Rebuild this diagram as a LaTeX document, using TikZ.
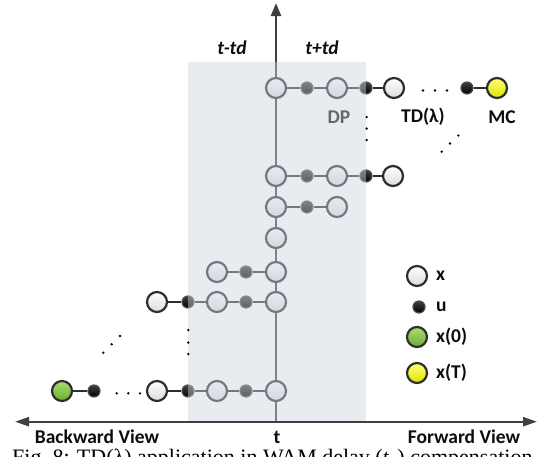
\documentclass[tikz,border=0pt]{standalone}
\usepackage{fontspec}
\setmainfont{Carlito}
\newfontfamily\capfont{Liberation Serif}
\usetikzlibrary{arrows.meta}
\definecolor{edgec}{HTML}{2E2E2E}
\definecolor{axisc}{HTML}{404040}
\definecolor{ovl}{RGB}{205,212,224}
\begin{document}
\begin{tikzpicture}[x=1pt,y=-1pt,
  xn/.style={circle, draw=edgec, line width=2.2pt, minimum size=20pt, inner sep=0pt, top color=white, bottom color=black!14},
  un/.style={circle, draw=black!70, line width=1.2pt, minimum size=12pt, inner sep=0pt, top color=black!75, bottom color=black},
  gn/.style={xn, top color={rgb,255:red,170;green,220;blue,110}, bottom color={rgb,255:red,105;green,175;blue,55}},
  yn/.style={xn, top color={rgb,255:red,255;green,255;blue,120}, bottom color={rgb,255:red,225;green,225;blue,0}},
  link/.style={draw=edgec, line width=2pt},
  lab/.style={font=\bfseries\fontsize{19.5}{21}\selectfont, text=black!95, inner sep=0pt},
  axlab/.style={font=\bfseries\itshape\fontsize{19.5}{21}\selectfont, text=black!95, inner sep=0pt},
  dotc/.style={fill=black}
]
\useasboundingbox (0,0) rectangle (543,456);
\begin{scope}
\clip (0,0) rectangle (543,456);

% axes
\coordinate (xl) at (15,421.7);
\coordinate (xr) at (537,421.7);
\coordinate (yb) at (276,421.7);
\coordinate (yt) at (276,3);
\draw[draw=axisc, line width=2.4pt, {Triangle[length=14pt,width=9pt]}-{Triangle[length=14pt,width=9pt]}] (xl) -- (xr);
\draw[draw=axisc, line width=2.4pt, -{Triangle[length=13pt,width=10pt]}] (yb) -- (yt);

% row 1
\node[xn] (a1) at (276,88) {};
\node[un] (a2) at (307,88) {};
\node[xn] (a3) at (337,88) {};
\node[un] (a4) at (366,88) {};
\node[xn] (a5) at (394,88) {};
\node[un] (a6) at (467,88) {};
\node[yn] (a7) at (497,88) {};
% row 2
\node[xn] (b1) at (276,176) {};
\node[un] (b2) at (307,176) {};
\node[xn] (b3) at (337,176) {};
\node[un] (b4) at (366,176) {};
\node[xn] (b5) at (393,176) {};
% row 3
\node[xn] (c1) at (276,207) {};
\node[un] (c2) at (307,207) {};
\node[xn] (c3) at (337,207) {};
% row 4
\node[xn] (d1) at (276,238) {};
% row 5
\node[xn] (e1) at (276,272) {};
\node[un] (e2) at (246,272) {};
\node[xn] (e3) at (217,272) {};
% row 6
\node[xn] (f1) at (276,302) {};
\node[un] (f2) at (246,302) {};
\node[xn] (f3) at (217,302) {};
\node[un] (f4) at (188,302) {};
\node[xn] (f5) at (157,302) {};
% row 7
\node[xn] (g1) at (276,391) {};
\node[un] (g2) at (246,391) {};
\node[xn] (g3) at (217,391) {};
\node[un] (g4) at (188,391) {};
\node[xn] (g5) at (157,391) {};
\node[un] (g6) at (94,391) {};
\node[gn] (g7) at (62,391) {};

% links
\path[link] (a1)--(a2) (a2)--(a3) (a3)--(a4) (a4)--(a5) (a6)--(a7);
\path[link] (b1)--(b2) (b2)--(b3) (b3)--(b4) (b4)--(b5);
\path[link] (c1)--(c2) (c2)--(c3);
\path[link] (e1)--(e2) (e2)--(e3);
\path[link] (f1)--(f2) (f2)--(f3) (f3)--(f4) (f4)--(f5);
\path[link] (g1)--(g2) (g2)--(g3) (g3)--(g4) (g4)--(g5) (g6)--(g7);

\node[lab] (dp) at (339,117) {DP};

% overlay window
\fill[ovl, fill opacity=0.45] (188,62) rectangle (366,420.5);

% labels
\node[lab] (td) at (423,117) {TD(λ)};
\node[lab] (mc) at (502,117) {MC};
\node[axlab] (tm) at (232,48) {t-td};
\node[axlab] (tp) at (322,48) {t+td};
\node[lab] (bw) at (97,437) {Backward View};
\node[lab] (tl) at (277,437) {t};
\node[lab] (fw) at (464,437) {Forward View};

% dots
\foreach \p in {(423,90.5),(435,90.5),(447,90.5),
                (366.7,117),(366.7,128.5),(366.7,140),
                (441.7,151.7),(450,143.5),(458.3,135.5),
                (188.3,330),(188.3,342.5),(188.3,354),
                (103.3,352.7),(111.7,344.3),(120,336),
                (116.7,393.3),(128.3,393.3),(140,393.3)}
  \fill[dotc] \p circle (1.3pt);

% legend
\node[xn] (lx) at (417,276) {};
\node[un] (lu) at (419,307) {};
\node[gn] (lg) at (417,337) {};
\node[yn] (ly) at (417,373) {};
\node[lab, anchor=west] (llx) at (436,276) {x};
\node[lab, anchor=west] (llu) at (436,307) {u};
\node[lab, anchor=west] (llg) at (436,337) {x(0)};
\node[lab, anchor=west] (lly) at (436,373) {x(T)};

% caption (cut by the frame)
\node[anchor=base west, inner sep=0pt, font=\capfont\fontsize{22}{24}\selectfont] (cap) at (12,464.5) {Fig.~8: TD(λ) application in WAM delay (\textit{t}\textsubscript{d}) compensation};
\end{scope}
\end{tikzpicture}
\end{document}
